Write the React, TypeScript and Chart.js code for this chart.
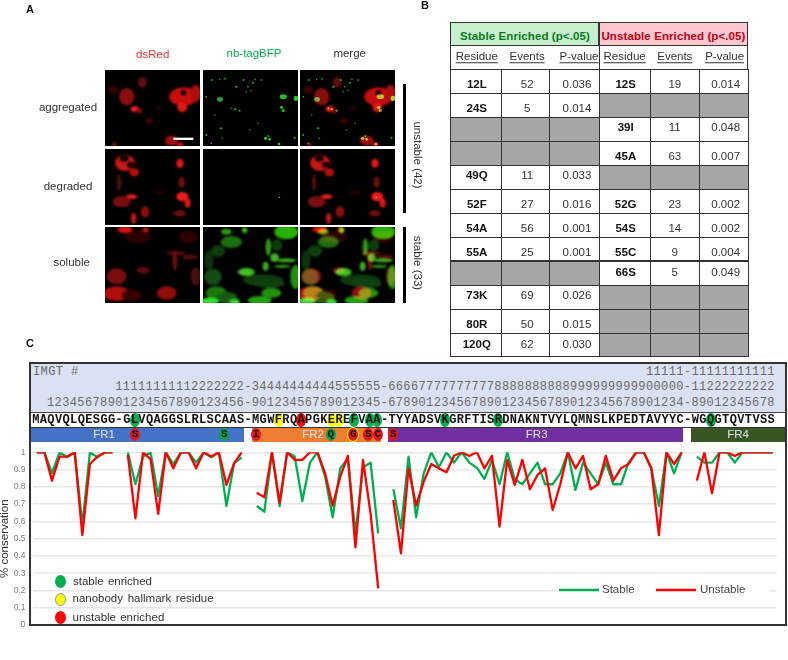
import React, { useEffect, useRef } from "react";
import { Chart, registerables } from "chart.js";

Chart.register(...registerables);

const SEQUENCE = "MAQVQLQESGG-GLVQAGGSLRLSCAAS-MGWFRQAPGKEREFVAA-TYYADSVKGRFTISRDNAKNTVYLQMNSLKPEDTAVYYC-WGQGTQVTVSS";
const residues = SEQUENCE.split("");

const stable: (number | null)[] = [
  1, 1, 0.88, 1, 0.971, 1, 0.58, 1, 0.971, 1, 1, null,
  1, 0.815, 0.975, 1, 0.747, 1, 0.932, 1, 1, 0.94, 1, 0.971, 1, 0.689, 0.936, 0.971, null,
  0.689, 0.656, 1, 0.689, 1, 0.975, 0.718, 0.94, 1, 0.859, 0.624, 0.907, 0.965, 0.531, 0.913, 0.94, 0.531, null,
  0.786, 0.56, 0.975, 0.624, 0.878, 1, 0.913, 1, 0.94, 1, 0.94, 0.911, 0.846, 0.955, 0.815, 1, 0.844, 0.815,
  0.878, 0.94, 0.815, 0.815, 0.878, 1, 0.782, 0.94, 0.878, 0.815, 0.94, 0.815, 0.815, 0.94, 1, 1, 0.907, 0.689, 1, 0.878, 1, null,
  0.975, 0.94, 0.94, 1, 1, 0.94, 1, 1, 1, 1, 1,
];
const unstable: (number | null)[] = [
  1, 1, 0.836, 0.975, 0.975, 1, 0.521, 0.932, 0.975, 1, 1, null,
  0.985, 0.618, 1, 0.96, 0.643, 1, 0.907, 1, 1, 0.907, 1, 0.975, 1, 0.811, 0.936, 1, null,
  0.766, 0.739, 1, 0.708, 1, 0.956, 0.956, 1, 1, 0.878, 0.691, 0.859, 0.98, 0.45, 0.956, 0.643, 0.212, null,
  0.724, 0.415, 0.907, 0.691, 0.83, 0.932, 0.907, 0.884, 0.98, 1, 0.979, 1, 0.907, 0.98, 0.57, 0.956, 0.811, 0.956,
  0.786, 0.869, 0.907, 0.666, 0.815, 1, 0.907, 0.979, 0.786, 0.815, 0.979, 0.836, 0.907, 0.932, 1, 1, 0.907, 0.521, 1, 0.932, 1, null,
  0.836, 1, 0.763, 1, 1, 0.979, 1, 1, 1, 1, 1,
];

const stableResidue = ["12L", "24S", "", "", "49Q", "52F", "54A", "55A", "", "73K", "80R", "120Q"];
const stableEvents = ["52", "5", "", "", "11", "27", "56", "25", "", "69", "50", "62"];
const stableP = ["0.036", "0.014", "", "", "0.033", "0.016", "0.001", "0.001", "", "0.026", "0.015", "0.030"];
const unstableResidue = ["12S", "", "39I", "45A", "", "52G", "54S", "55C", "66S", "", "", ""];
const unstableEvents = ["19", "", "11", "63", "", "23", "14", "9", "5", "", "", ""];
const unstableP = ["0.014", "", "0.048", "0.007", "", "0.002", "0.002", "0.004", "0.049", "", "", ""];

const imgtHundreds = "11111-11111111111";
const imgtTens = "1111111111" + "2222222" + "-3" + "4444444444" + "555555" + "-6666" + "7777777777" + "8888888888" + "9999999999" + "00000" + "-11" + "222222222";
const imgtUnits = "12345678901234567890123456-90123456789012345-678901234567890123456789012345678901234-89012345678";

const seqMarks: [number, string][] = [[13, "#00b050"], [32, "#ffff00"], [35, "#ff0000"], [39, "#ffff00"], [40, "#ffff00"], [42, "#00b050"], [44, "#00b050"], [45, "#00b050"], [54, "#00b050"], [61, "#00b050"], [89, "#00b050"]];
const frMarks: [number, string, string, boolean][] = [[135, "S", "#e8141c", false], [224.3, "S", "#00a650", false], [256, "I", "#e8141c", false], [330.7, "Q", "#00a650", false], [353.3, "G", "#e8141c", true], [368.3, "S", "#e8141c", false], [377.7, "C", "#e8141c", false], [393.3, "S", "#e8141c", false]];
const frBars: [string, number, number, string, number][] = [["FR1", 30, 244, "#4472c4", 104], ["FR2", 252, 381, "#ed7d31", 313], ["FR3", 388, 683, "#7030a0", 536.7], ["FR4", 691, 786, "#375623", 738]];

const SANS = "'Liberation Sans', Arial, sans-serif";
const MONO = "'Liberation Mono', monospace";

type Blob = [number, number, number, number, string];

const redA: Blob[] = [[235, 80, 42, 28, "#c81010"], [272, 70, 16, 26, "#b01010"], [65, 80, 23, 26, "#8a0c0c"], [90, 117, 13, 8, "#ff2020"], [112, 37, 13, 17, "#5e0808"], [232, 112, 15, 14, "#e01818"], [133, 152, 10, 8, "#4a0606"], [102, 122, 10, 8, "#7a0a0a"], [200, 212, 20, 15, "#a01010"], [226, 224, 10, 8, "#c01010"], [25, 60, 15, 12, "#3a0505"], [28, 224, 8, 8, "#5e0808"], [160, 115, 10, 6, "#2a0404"]];
const greenA: Blob[] = [[51, 88, 9, 7, "#2aa02a"], [241, 80, 11, 7, "#22bb22"], [279, 85, 7, 8, "#22cc22"], [236, 112, 5, 5, "#22bb22"], [241, 122, 5, 4, "#22bb22"], [96, 118, 4, 3, "#22aa22"], [110, 122, 3, 3, "#22aa22"], [188, 205, 5, 5, "#22cc22"], [200, 208, 4, 4, "#22cc22"], [196, 198, 3, 3, "#22bb22"], [228, 222, 4, 4, "#22cc22"], [54, 175, 4, 3, "#22aa22"], [26, 30, 3, 3, "#22aa22"], [50, 28, 2.5, 2.5, "#22aa22"], [66, 26, 2.5, 3, "#22aa22"], [100, 50, 4, 3, "#22aa22"], [122, 30, 3, 3, "#22aa22"], [135, 50, 2.5, 2.5, "#22aa22"], [150, 38, 3, 3, "#22aa22"], [156, 28, 2.5, 2.5, "#22aa22"], [175, 30, 2.5, 3, "#22aa22"], [144, 62, 2.5, 2.5, "#1c961c"], [130, 65, 2.5, 2.5, "#1c961c"], [10, 80, 2.5, 3, "#22aa22"], [35, 135, 3, 2.5, "#1c961c"], [85, 115, 2.5, 2.5, "#1c961c"], [10, 195, 3, 3, "#22aa22"], [25, 220, 2.5, 2.5, "#22aa22"], [140, 180, 2.5, 2.5, "#1c961c"], [275, 203, 3, 3, "#22bb22"], [165, 160, 2.5, 2.5, "#1c961c"], [58, 205, 2.5, 2.5, "#1c961c"]];
const redB: Blob[] = [[60, 42, 30, 24, "#c81212"], [88, 70, 14, 12, "#b81010"], [225, 43, 11, 14, "#e01818"], [230, 100, 10, 17, "#6a0a0a"], [232, 143, 18, 14, "#f01c1c"], [248, 162, 9, 14, "#e01818"], [80, 143, 17, 7, "#e82020"], [50, 158, 27, 17, "#7a0c0c"], [120, 188, 13, 17, "#8c0e0e"], [86, 208, 8, 17, "#c01818"], [225, 193, 18, 10, "#6a0a0a"], [42, 100, 7, 26, "#4a0808"], [165, 130, 20, 6, "#2a0505"]];
const greenB: Blob[] = [[229, 145, 2.5, 2, "#33dd33"], [60, 4, 4, 2, "#0a3a0a"]];
const redC: Blob[] = [[60, 8, 22, 10, "#e01010"], [122, 8, 9, 8, "#c01010"], [212, 78, 30, 6, "#5a0808"], [210, 100, 7, 30, "#740c0c"], [35, 148, 30, 24, "#7a0c0c"], [185, 198, 30, 20, "#900e0e"], [35, 200, 40, 22, "#b01010"], [115, 130, 20, 10, "#5a0808"], [272, 148, 15, 28, "#4a0707"], [100, 30, 40, 18, "#2e0404"], [250, 30, 30, 18, "#2e0404"], [80, 205, 30, 18, "#3a0505"], [255, 90, 25, 8, "#4a0707"]];
const greenC: Blob[] = [[250, 15, 36, 22, "#26b000"], [70, 14, 16, 9, "#289c08"], [125, 10, 8, 9, "#30c000"], [85, 45, 32, 18, "#1a7010"], [45, 72, 22, 18, "#0c3c0c"], [18, 100, 14, 30, "#0a300a"], [30, 150, 26, 25, "#124a12"], [40, 198, 32, 20, "#1a7a10"], [72, 212, 32, 18, "#125a0e"], [20, 222, 28, 10, "#30e030"], [95, 225, 16, 8, "#30e030"], [170, 220, 36, 13, "#20a010"], [205, 198, 30, 15, "#20900f"], [130, 135, 25, 12, "#40c020"], [215, 92, 13, 13, "#40b020"], [196, 60, 8, 26, "#329a18"], [188, 118, 9, 14, "#38a81c"], [250, 100, 30, 6, "#38a81c"], [238, 118, 24, 5, "#2e9018"], [278, 150, 16, 36, "#209010"], [180, 160, 60, 18, "#0c3a0c"], [222, 55, 16, 18, "#0e3e0e"], [200, 170, 45, 12, "#0e420e"]];

const Blobs = ({ items, blend, fine }: { items: Blob[]; blend?: boolean; fine?: boolean }) => (
  <g style={{ mixBlendMode: blend ? "screen" : "normal" }} filter={fine ? "url(#fine)" : "url(#soft)"}>
    {items.map((b, i) => <ellipse key={i} cx={b[0]} cy={b[1]} rx={b[2]} ry={b[3]} fill={b[4]} />)}
  </g>
);

function Micro({ x, y, red, green, bar, holes, fine }: { x: number; y: number; red?: Blob[]; green?: Blob[]; bar?: boolean; holes?: Blob[]; fine?: boolean }) {
  return (
    <svg viewBox="0 0 286 228" width={95.3} height={76} style={{ position: "absolute", left: x, top: y, background: "#000", isolation: "isolate" }}>
      {red && <Blobs items={red} />}
      {red && holes && <Blobs items={holes} />}
      {green && <Blobs items={green} blend={!!red} fine={fine} />}
      {bar && <rect x={205} y={203} width={60} height={7} fill="#fff" />}
    </svg>
  );
}

const holeA: Blob[] = [[235, 68, 8, 8, "#000"]];
const holeB: Blob[] = [[58, 28, 13, 10, "#000"], [80, 48, 14, 10, "#1a0202"]];

const T = ({ x, y, children, style, anchor = "center" }: any) => (
  <div style={{
    position: "absolute", left: x, top: y, whiteSpace: "pre", lineHeight: 1, fontFamily: SANS, fontSize: 11.5, color: "#333",
    transform: anchor === "center" ? "translate(-50%,-50%)" : "translate(0,-50%)", ...style,
  }}>{children}</div>
);

const colX = [450.3, 501.3, 549, 599, 650.3, 699.3, 748];
const rowY = [69.3, 93.3, 117.3, 141.3, 165, 188.5, 212.7, 236.7, 260.5, 284.7, 308.7, 332.7, 356.3];
const rowShift = [4, 4, -1, 4, -1, 4, 4, 4, 0, -1, 4, 0];

function Table() {
  const columns = [stableResidue, stableEvents, stableP, unstableResidue, unstableEvents, unstableP];
  const subs = ["Residue", "Events", "P-value", "Residue", "Events", "P-value"];
  const line = "#333";
  return (
    <>
      <div style={{ position: "absolute", left: 450.3, top: 21.7, width: 148.7, height: 24, background: "#c6efce", boxSizing: "border-box", border: `1px solid ${line}` }} />
      <div style={{ position: "absolute", left: 599, top: 21.7, width: 149, height: 24, background: "#ffc7ce", boxSizing: "border-box", border: `1px solid ${line}` }} />
      <T x={525} y={37.3} style={{ fontWeight: 700, color: "#0a7a20", letterSpacing: 0.1 }}>Stable Enriched (p&lt;.05)</T>
      <T x={673.5} y={37.3} style={{ fontWeight: 700, color: "#c00018", letterSpacing: 0.1 }}>Unstable Enriched (p&lt;.05)</T>
      <div style={{ position: "absolute", left: 450.3, top: 45.7, width: 297.7, height: 23.6, boxSizing: "border-box", borderLeft: `1px solid ${line}`, borderRight: `1px solid ${line}` }} />
      <div style={{ position: "absolute", left: 599, top: 45.7, width: 1, height: 23.6, background: line }} />
      {subs.map((s, c) => (
        <T key={c} x={(colX[c] + colX[c + 1]) / 2 + [1, 2, 5, 0, 0, 1][c]} y={57} style={{ textDecoration: "underline", textUnderlineOffset: 2 }}>{s}</T>
      ))}
      {columns.map((col, c) => col.map((v, r) => (
        <div key={`${c}-${r}`} style={{
          position: "absolute", left: colX[c], top: rowY[r], width: colX[c + 1] - colX[c] + 1, height: rowY[r + 1] - rowY[r] + 1,
          boxSizing: "border-box", border: `1px solid ${line}`, background: v === "" ? "#a6a6a6" : "#fff",
        }} />
      )))}
      {columns.map((col, c) => col.map((v, r) => v === "" ? null : (
        <T key={`t${c}-${r}`} x={(colX[c] + colX[c + 1]) / 2 + [1, 2, 3, 1, 0, 2][c]} y={(rowY[r] + rowY[r + 1]) / 2 + rowShift[r]} style={c % 3 === 0 ? { fontWeight: 700, color: "#111" } : undefined}>{v}</T>
      )))}
    </>
  );
}

function LineChart() {
  const ref = useRef<HTMLCanvasElement>(null);
  useEffect(() => {
    const legendPlugin = {
      id: "lineLegend",
      afterDatasetsDraw(chart: any) {
        const { ctx } = chart;
        ctx.save();
        ctx.fillStyle = "#fff";
        ctx.fillRect(556, 583, 214, 14);
        const spots = [[559, 602], [656, 700]];
        chart.data.datasets.forEach((d: any, i: number) => {
          ctx.strokeStyle = d.borderColor;
          ctx.lineWidth = 2.6;
          ctx.beginPath();
          ctx.moveTo(spots[i][0], 590);
          ctx.lineTo(spots[i][0] + 40, 590);
          ctx.stroke();
          ctx.fillStyle = "#444";
          ctx.font = `11.5px ${SANS}`;
          ctx.textBaseline = "middle";
          ctx.fillText(d.label, spots[i][1], 590);
        });
        ctx.restore();
      },
    };
    const chart = new Chart(ref.current!, {
      type: "line",
      data: {
        labels: residues,
        datasets: [
          { label: "Stable", data: stable, borderColor: "#00b050", borderWidth: 2.3, borderJoinStyle: "round", pointRadius: 0, tension: 0, spanGaps: false, order: 2 },
          { label: "Unstable", data: unstable, borderColor: "#ff0000", borderWidth: 2.3, borderJoinStyle: "round", pointRadius: 0, tension: 0, spanGaps: false, order: 1 },
        ],
      },
      options: {
        animation: false,
        responsive: false,
        devicePixelRatio: 1,
        layout: { padding: { left: 0, right: 11.5, top: 452.3, bottom: 35 } },
        plugins: { legend: { display: false }, tooltip: { enabled: false } },
        scales: {
          x: { display: false, offset: true },
          y: {
            min: 0, max: 1,
            afterFit: (s: any) => { s.width = 33; },
            grid: { color: "#e6e6e6", lineWidth: 1.5, drawTicks: false },
            border: { display: false },
            ticks: {
              stepSize: 0.1, padding: 7.5, color: "#808080", font: { size: 8.5, family: SANS },
              callback: (v: any) => String(Math.round(Number(v) * 10) / 10),
            },
            title: { display: true, text: "% conservation", color: "#333", padding: { top: 0, bottom: 0 }, font: { size: 11.5, family: SANS, lineHeight: 0.9 } },
          },
        },
      },
      plugins: [legendPlugin],
    } as any);
    return () => chart.destroy();
  }, []);
  return <canvas ref={ref} width={788} height={660} style={{ position: "absolute", left: 0, top: 0, width: 788, height: 660 }} />;
}

const monoLine: React.CSSProperties = { position: "absolute", right: 13.2, fontFamily: MONO, fontSize: 12, letterSpacing: 0.38, color: "#6b6b6b", whiteSpace: "pre", lineHeight: 1 };
const ovalX = (i: number) => 36 + 7.58 * i;

const Oval = ({ cx, cy, w, h, fill, extra }: any) => (
  <div style={{ position: "absolute", left: cx - w / 2, top: cy - h / 2, width: w, height: h, borderRadius: "50%", background: fill, boxSizing: "border-box", ...extra }} />
);

export default function App() {
  return (
    <div style={{ position: "relative", width: 788, height: 660, background: "#fff", overflow: "hidden" }}>
      <style>{"html,body{margin:0;padding:0;background:#fff}"}</style>
      <LineChart />

      {/* Panel A */}
      <T x={30} y={8.5} style={{ fontWeight: 700, color: "#111", fontSize: 11 }}>A</T>
      <T x={425} y={5} style={{ fontWeight: 700, color: "#111", fontSize: 11 }}>B</T>
      <T x={30} y={343} style={{ fontWeight: 700, color: "#111", fontSize: 11 }}>C</T>
      <svg width={0} height={0} style={{ position: "absolute" }}>
        <defs>
          <filter id="soft"><feGaussianBlur stdDeviation="2.4" /></filter>
          <filter id="fine"><feGaussianBlur stdDeviation="0.7" /></filter>
        </defs>
      </svg>
      <T x={152.7} y={55} style={{ color: "#f03030" }}>dsRed</T>
      <T x={254} y={53.5} style={{ color: "#00b050" }}>nb-tagBFP</T>
      <T x={349.7} y={53.7}>merge</T>
      <T x={68} y={108.3}>aggregated</T>
      <T x={68} y={187}>degraded</T>
      <T x={71.7} y={263}>soluble</T>
      <Micro x={105} y={70} red={redA} holes={holeA} bar />
      <Micro x={203} y={70} green={greenA} fine />
      <Micro x={300} y={70} red={redA} holes={holeA} green={greenA} fine />
      <Micro x={105} y={149} red={redB} holes={holeB} />
      <Micro x={203} y={149} green={greenB} fine />
      <Micro x={300} y={149} red={redB} holes={holeB} green={greenB} fine />
      <Micro x={105} y={227.3} red={redC} />
      <Micro x={203} y={227.3} green={greenC} />
      <Micro x={300} y={227.3} red={redC} green={greenC} />
      <div style={{ position: "absolute", left: 403, top: 84, width: 2.5, height: 129.3, background: "#000" }} />
      <div style={{ position: "absolute", left: 403, top: 227.3, width: 2.5, height: 76, background: "#000" }} />
      <T x={416.7} y={155.3} style={{ transform: "translate(-50%,-50%) rotate(90deg)" }}>unstable (42)</T>
      <T x={416.7} y={263} style={{ transform: "translate(-50%,-50%) rotate(90deg)" }}>stable (33)</T>

      {/* Panel B */}
      <Table />

      {/* Panel C header */}
      <div style={{ position: "absolute", left: 30, top: 364, width: 756, height: 47.5, background: "#d9e1f2" }} />
      <div style={{ position: "absolute", left: 33, top: 366, fontFamily: MONO, fontSize: 12, letterSpacing: 0.38, color: "#6b6b6b", lineHeight: 1, whiteSpace: "pre" }}>IMGT #</div>
      <div style={{ ...monoLine, top: 366 }}>{imgtHundreds}</div>
      <div style={{ ...monoLine, top: 381 }}>{imgtTens}</div>
      <div style={{ ...monoLine, top: 397 }}>{imgtUnits}</div>
      <div style={{ position: "absolute", left: 30, top: 411.5, width: 756, height: 1.2, background: "#444" }} />
      <div style={{ position: "absolute", left: 30, top: 427, width: 756, height: 1, background: "#333" }} />
      {seqMarks.map(([i, c], k) => <Oval key={k} cx={ovalX(i)} cy={420} w={10} h={14} fill={c} />)}
      <div style={{ position: "absolute", left: 32.2, top: 414, fontFamily: MONO, fontWeight: 700, fontSize: 12, letterSpacing: 0.38, color: "#111", lineHeight: 1, whiteSpace: "pre" }}>{SEQUENCE}</div>
      {frBars.map(([label, a, b, c]) => (
        <div key={label} style={{ position: "absolute", left: a, top: 428, width: b - a, height: 14, background: c }} />
      ))}
      {frBars.map(([label, , , , cx]) => (
        <T key={label} x={cx} y={435} style={{ color: "#e4e4ee" }}>{label}</T>
      ))}
      {frMarks.map(([x, letter, c, ring], k) => (
        <React.Fragment key={k}>
          <Oval cx={x} cy={434.5} w={ring ? 12 : 10} h={ring ? 15 : 13} fill={c} extra={ring ? { border: "1.5px solid #ffff00" } : undefined} />
          <div style={{ position: "absolute", left: x - 5, width: 10, top: 429, textAlign: "center", fontFamily: MONO, fontWeight: 700, fontSize: 11, color: "#111", lineHeight: 1 }}>{letter}</div>
        </React.Fragment>
      ))}

      {/* Panel C keys */}
      <Oval cx={60.7} cy={581.7} w={11} h={13} fill="#00b050" />
      <Oval cx={60.7} cy={599} w={11} h={13} fill="#ffff00" extra={{ border: "0.5px solid #999" }} />
      <Oval cx={60.7} cy={617.7} w={11} h={13} fill="#ff0000" />
      <T anchor="left" x={73} y={581.5} style={{ wordSpacing: 1 }}>stable enriched</T>
      <T anchor="left" x={72.5} y={599} style={{ wordSpacing: 1.5 }}>nanobody hallmark residue</T>
      <T anchor="left" x={72.5} y={618} style={{ wordSpacing: 1 }}>unstable enriched</T>

      {/* Panel C frame */}
      <div style={{ position: "absolute", left: 29, top: 362, width: 758, height: 264, boxSizing: "border-box", border: "2px solid #333", borderTopWidth: 2.5, pointerEvents: "none" }} />
    </div>
  );
}
